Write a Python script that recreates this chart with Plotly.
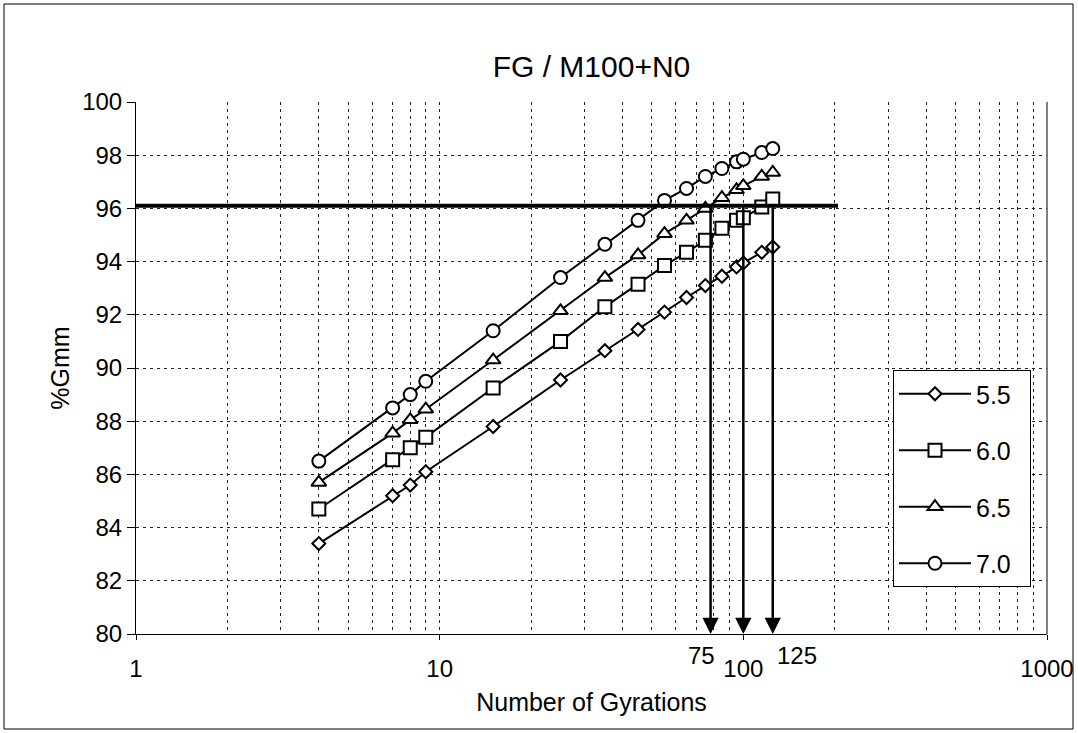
import math
import plotly.graph_objects as go

# ---- data ----
gyrations = [4, 7, 8, 9, 15, 25, 35, 45, 55, 65, 75, 85, 95, 100, 115, 125]
series_names = ["5.5", "6.0", "6.5", "7.0"]
gmm_55 = [83.4, 85.2, 85.6, 86.1, 87.8, 89.55, 90.65, 91.45, 92.1, 92.65, 93.1, 93.45, 93.8, 93.95, 94.35, 94.55]
gmm_60 = [84.7, 86.55, 87.0, 87.4, 89.25, 91.0, 92.3, 93.15, 93.85, 94.35, 94.8, 95.25, 95.55, 95.65, 96.05, 96.35]
gmm_65 = [85.7, 87.55, 88.05, 88.45, 90.3, 92.15, 93.4, 94.25, 95.05, 95.55, 96.0, 96.4, 96.7, 96.85, 97.2, 97.35]
gmm_70 = [86.5, 88.5, 89.0, 89.5, 91.4, 93.4, 94.65, 95.55, 96.3, 96.75, 97.2, 97.5, 97.75, 97.85, 98.1, 98.25]
target_line_x = [1, 205]
target_line_y = [96.1, 96.1]
arrow_x = [78, 100, 125]
arrow_labels = ["75", "125"]
arrow_label_x = [73, 150]
x_tickvals = [1, 10, 100, 1000]
y_tickvals = [80, 82, 84, 86, 88, 90, 92, 94, 96, 98, 100]

FONT = "Arial, Liberation Sans, sans-serif"
symbols = ["diamond", "square", "triangle-up", "circle"]
sizes = [10, 13, 13, 13]
all_y = [gmm_55, gmm_60, gmm_65, gmm_70]

fig = go.Figure()
for i, (name, ys) in enumerate(zip(series_names, all_y)):
    fig.add_trace(go.Scatter(
        x=gyrations, y=ys, name=name + "&nbsp;&nbsp;", mode="lines+markers",
        line=dict(color="black", width=2),
        marker=dict(symbol=symbols[i], size=sizes[i], color="white",
                    line=dict(color="black", width=2)),
        legendgroup="g" + name,
    ))

fig.add_trace(go.Scatter(
    x=target_line_x, y=target_line_y, mode="lines",
    line=dict(color="black", width=4), showlegend=False, hoverinfo="skip"))

annotations = []
for ax_ in arrow_x:
    annotations.append(dict(
        x=math.log10(ax_), y=80, xref="x", yref="y",
        ax=math.log10(ax_), ay=target_line_y[0], axref="x", ayref="y",
        showarrow=True, arrowhead=2, arrowsize=1.3, arrowwidth=2.5,
        arrowcolor="black", text=""))
for lab, lx in zip(arrow_labels, arrow_label_x):
    annotations.append(dict(
        x=math.log10(lx), y=-0.04, xref="x", yref="paper",
        text=lab, showarrow=False, yanchor="middle",
        font=dict(family=FONT, size=24, color="black")))

fig.update_layout(
    width=1078, height=733,
    margin=dict(l=136, r=31, t=102, b=99, autoexpand=False),
    paper_bgcolor="white", plot_bgcolor="white",
    title=dict(text="FG / M100+N0", x=(136 + 1047) / 2 / 1078, xanchor="center",
               y=1 - 66 / 733, yanchor="middle",
               font=dict(family=FONT, size=30, color="black")),
    font=dict(family=FONT, size=24, color="black"),
    showlegend=True,
    legend=dict(x=(893 - 136) / 911, xanchor="left",
                y=(634 - 370) / 532, yanchor="top",
                bgcolor="white", bordercolor="black", borderwidth=1,
                tracegroupgap=21, itemwidth=72,
                font=dict(family=FONT, size=25, color="black")),
    annotations=annotations,
    shapes=[
        dict(type="rect", xref="paper", yref="paper",
             x0=-132 / 911, x1=(1073 - 136) / 911,
             y0=-(729 - 634) / 532, y1=(634 - 4) / 532,
             line=dict(color="black", width=1)),
        dict(type="line", xref="paper", yref="paper", x0=1, x1=1, y0=0, y1=1,
             line=dict(color="#555555", width=1.5)),
    ],
)

fig.update_xaxes(
    type="log", range=[0, 3],
    tickvals=x_tickvals, ticktext=[str(v) for v in x_tickvals],
    ticks="outside", ticklen=5, tickcolor="black", ticklabelstandoff=8,
    showline=True, linecolor="black", linewidth=1,
    showgrid=True, gridcolor="#222222", gridwidth=1, griddash="3px,4px",
    minor=dict(dtick="D1", showgrid=True, gridcolor="#222222", gridwidth=1,
               griddash="3px,4px", ticks=""),
    tickfont=dict(family=FONT, size=24, color="black"),
    title=dict(text="Number of Gyrations", standoff=12,
               font=dict(family=FONT, size=25, color="black")),
    zeroline=False,
)
fig.update_yaxes(
    range=[80, 100], tickvals=y_tickvals,
    ticks="outside", ticklen=8, tickcolor="black",
    showline=True, linecolor="black", linewidth=1,
    showgrid=True, gridcolor="#222222", gridwidth=1, griddash="3px,4px",
    tickfont=dict(family=FONT, size=24, color="black"),
    title=dict(text="%Gmm", standoff=5,
               font=dict(family=FONT, size=25, color="black")),
    zeroline=False,
)

fig.write_html("out.html")
